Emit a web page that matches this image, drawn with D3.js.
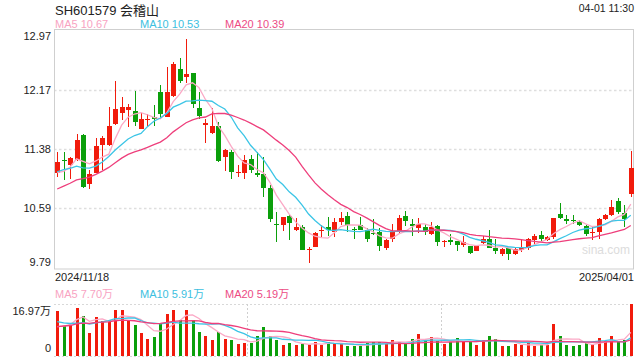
<!DOCTYPE html>
<html><head><meta charset="utf-8">
<script src="https://cdn.jsdelivr.net/npm/d3@7"></script>
<style>body{margin:0;background:#fff}svg{display:block}text{font-family:"Liberation Sans",Arial,"Noto Sans CJK SC",sans-serif}</style>
</head><body><svg id="c" width="640" height="360"></svg>
<script>
const title = "SH601579 会稽山";
const timeLabel = "04-01 11:30";
const dateLabels = ["2024/11/18", "2025/04/01"];
const priceTicks = [12.97, 12.17, 11.38, 10.59, 9.79];
const volTicks = [16.97, 0];
const volTickLabels = ["16.97万", "0"];
const maLabels = ["MA5 10.67", "MA10 10.53", "MA20 10.39"];
const volMaLabels = ["MA5 7.70万", "MA10 5.91万", "MA20 5.19万"];
const maPeriods = [5, 10, 20];

const openP = [11.07,11.24,11.17,11.24,11.57,10.92,11.07,11.44,11.44,11.72,
11.86,11.90,11.89,11.65,11.77,11.81,12.14,11.81,12.09,12.45,
12.34,12.40,11.93,11.70,11.60,11.69,11.28,11.35,11.06,11.07,
11.25,11.06,11.05,10.86,10.39,10.37,10.49,10.30,10.34,10.04,
10.08,10.30,10.34,10.28,10.41,10.49,10.32,10.37,10.30,10.27,
10.28,10.06,10.18,10.28,10.49,10.38,10.33,10.34,10.25,10.36,
10.14,10.17,10.16,10.10,10.09,10.03,10.13,10.18,10.06,9.99,
10.07,9.98,10.04,10.07,10.17,10.24,10.17,10.21,10.52,10.45,
10.44,10.41,10.36,10.27,10.28,10.45,10.50,10.69,10.53,10.78];
const highP = [11.35,11.35,11.28,11.59,11.59,11.10,11.53,11.56,11.94,12.29,
12.08,11.98,12.16,11.86,11.85,11.97,12.24,12.48,12.55,12.60,
12.85,12.40,12.15,11.79,11.93,11.75,11.39,11.37,11.17,11.30,
11.30,11.35,11.28,10.90,10.54,10.48,10.50,10.47,10.37,10.08,
10.28,10.37,10.48,10.47,10.55,10.54,10.35,10.48,10.33,10.45,
10.33,10.19,10.38,10.50,10.56,10.45,10.47,10.39,10.41,10.37,
10.17,10.25,10.16,10.23,10.09,10.10,10.23,10.31,10.19,10.06,
10.07,10.07,10.17,10.20,10.25,10.29,10.22,10.47,10.66,10.50,
10.50,10.44,10.37,10.36,10.46,10.52,10.71,10.73,10.64,11.36];
const lowP = [11.01,10.97,10.98,11.22,10.87,10.85,11.06,11.10,11.42,11.70,
11.77,11.68,11.69,11.65,11.69,11.69,11.79,11.81,12.08,12.26,
12.26,11.93,11.78,11.47,11.59,11.21,11.09,10.99,11.01,10.99,
11.06,11.01,10.75,10.41,10.15,10.29,10.17,10.29,10.04,9.87,
10.08,10.21,10.22,10.21,10.37,10.28,10.19,10.30,10.15,10.24,
10.03,10.04,10.14,10.27,10.36,10.22,10.27,10.24,10.24,10.09,
10.08,10.10,10.02,10.08,9.99,10.02,10.12,10.06,9.99,9.96,
9.91,9.97,10.01,10.04,10.12,10.15,10.16,10.19,10.45,10.38,
10.39,10.36,10.22,10.17,10.18,10.44,10.49,10.52,10.34,10.75];
const closeP = [11.21,11.23,11.27,11.50,10.88,11.05,11.42,11.53,11.69,11.92,
11.95,11.95,11.74,11.78,11.78,11.78,11.85,12.14,12.52,12.29,
12.39,11.99,11.82,11.73,11.69,11.22,11.37,11.08,11.08,11.24,
11.11,11.04,10.86,10.45,10.38,10.48,10.40,10.35,10.04,10.05,
10.26,10.31,10.31,10.41,10.46,10.37,10.30,10.30,10.18,10.25,
10.09,10.17,10.28,10.47,10.42,10.36,10.39,10.28,10.35,10.14,
10.16,10.14,10.10,10.14,10.00,10.10,10.19,10.07,10.02,10.05,
9.99,10.05,10.07,10.19,10.22,10.19,10.21,10.46,10.46,10.43,
10.42,10.37,10.25,10.28,10.45,10.50,10.61,10.55,10.45,11.13];
const volume = [14.8,9.9,10.1,15.8,13.1,7.6,12.7,11.3,11.7,15.0,
15.0,11.7,10.1,7.6,5.7,6.3,10.7,13.7,15.0,11.7,
15.0,11.7,7.9,6.5,5.2,7.9,5.5,5.2,3.9,4.3,
4.3,6.5,9.6,6.5,5.2,3.6,4.3,3.6,3.9,3.6,
4.7,3.7,4.6,3.9,3.9,3.2,3.2,3.2,4.2,4.6,
4.6,4.2,5.2,4.6,4.2,5.6,7.3,5.2,6.3,4.9,
3.9,4.6,5.9,4.6,4.9,3.6,5.2,6.6,5.6,3.2,
3.2,3.9,3.6,4.2,3.2,3.6,3.6,10.6,6.6,3.6,
3.2,3.6,4.2,3.9,5.9,4.9,6.6,4.9,5.2,16.97];
// estimated sessions before the visible window (only feed the moving averages)
const prevClose = [10.45,10.52,10.60,10.55,10.62,10.70,10.66,10.72,10.68,10.70,
10.95,11.10,11.20,11.12,11.08,11.15,10.98,10.96,11.05];
const prevVolume = [6,7,5,8,9,7,10,9,8,11,14,12,15,11,12,9,8,7.5,8.7];

const W = 640, H = 360;
const L = 54, R = 634, T = 30, B = 268.5;
const VT = 304, VB = 356;
const red = "#f11b0c", green = "#0b9f0b";
const maColors = ["#fba9c6", "#3cc5e6", "#ee3f7c"];
const maTextColors = ["#f8a3c2", "#3cc0e0", "#ec4b84"];

const svg = d3.select("#c");
svg.append("rect").attr("width", W).attr("height", H).attr("fill", "#fff");

const n = closeP.length;
const idx = d3.range(n);
const x = d3.scaleBand().domain(idx).range([L, R]).paddingInner(0);
const step = x.bandwidth();
const cx = i => x(i) + step / 2;
const y = d3.scaleLinear().domain([priceTicks[priceTicks.length - 1], priceTicks[0]]).range([B, T]);
const yv = d3.scaleLinear().domain([0, volTicks[0]]).range([VB, VT]);

function movingAvg(prev, cur, p) {
  const all = prev.concat(cur), off = prev.length;
  return cur.map((_, i) => d3.mean(all.slice(off + i - p + 1, off + i + 1)));
}

// header
svg.append("text").attr("x", 55).attr("y", 15).attr("font-size", 13).attr("fill", "#222").text(title);
svg.append("text").attr("x", 634).attr("y", 12).attr("text-anchor", "end").attr("font-size", 10.5).attr("fill", "#222").text(timeLabel);
const legX = [55, 140, 225];
maLabels.forEach((t, k) => svg.append("text").attr("x", legX[k]).attr("y", 28).attr("font-size", 11).attr("fill", maTextColors[k]).text(t));

// grid
const grid = svg.append("g");
priceTicks.slice(1, -1).forEach(v => {
  grid.append("line").attr("x1", L).attr("x2", R).attr("y1", Math.round(y(v)) + 0.5).attr("y2", Math.round(y(v)) + 0.5)
    .attr("stroke", "#dedede").attr("stroke-width", 1.6).attr("stroke-dasharray", "2.5,2.5");
});
svg.append("rect").attr("x", L + 0.5).attr("y", T - 0.5).attr("width", R - L - 1).attr("height", B - T + 1)
  .attr("fill", "none").attr("stroke", "#cfcfcf");

// price labels
priceTicks.forEach((v, k) => {
  let yy = y(v);
  if (k === 0) yy += 6; else if (k === priceTicks.length - 1) yy -= 6;
  svg.append("text").attr("x", 51).attr("y", yy).attr("dy", "0.35em").attr("text-anchor", "end")
    .attr("font-size", 11).attr("fill", "#222").text(v.toFixed(2));
});
svg.append("text").attr("x", 55).attr("y", 281).attr("font-size", 11).attr("fill", "#222").text(dateLabels[0]);
svg.append("text").attr("x", 634).attr("y", 281).attr("text-anchor", "end").attr("font-size", 11).attr("fill", "#222").text(dateLabels[1]);

// watermark
svg.append("text").attr("x", 582).attr("y", 254).attr("font-size", 12).attr("fill", "#dcdcdc").text("sina.com");

svg.append("clipPath").attr("id", "cp").append("rect").attr("x", L + 1).attr("y", T).attr("width", R - L - 2).attr("height", B - T);
svg.append("clipPath").attr("id", "cv").append("rect").attr("x", L).attr("y", VT - 2).attr("width", R - L).attr("height", VB - VT + 2);

// candles
const bw = step * 0.72;
const cg = svg.append("g").attr("shape-rendering", "crispEdges");
idx.forEach(i => {
  const up = closeP[i] >= openP[i];
  const col = up ? red : green;
  const xc = Math.round(cx(i)) + 0.5;
  cg.append("line").attr("x1", xc).attr("x2", xc).attr("y1", y(highP[i])).attr("y2", y(lowP[i])).attr("stroke", col);
  const top = y(Math.max(openP[i], closeP[i])), bot = y(Math.min(openP[i], closeP[i]));
  cg.append("rect").attr("x", xc - bw / 2).attr("width", bw).attr("y", top).attr("height", Math.max(1, bot - top)).attr("fill", col);
});

// MA lines
const lg = svg.append("g").attr("clip-path", "url(#cp)");
maPeriods.forEach((p, k) => {
  const m = movingAvg(prevClose, closeP, p);
  lg.append("path").datum(m).attr("fill", "none").attr("stroke", maColors[k]).attr("stroke-width", 1.3)
    .attr("d", d3.line().x((d, i) => cx(i)).y(d => y(d)));
});

// volume panel
svg.append("text").attr("x", 55).attr("y", 298).attr("font-size", 11).attr("fill", maTextColors[0]).text(volMaLabels[0]);
svg.append("text").attr("x", 140).attr("y", 298).attr("font-size", 11).attr("fill", maTextColors[1]).text(volMaLabels[1]);
svg.append("text").attr("x", 225).attr("y", 298).attr("font-size", 11).attr("fill", maTextColors[2]).text(volMaLabels[2]);
const vg = svg.append("g");
[VT, VB].forEach(yy => vg.append("line").attr("x1", L).attr("x2", R).attr("y1", yy + 0.5).attr("y2", yy + 0.5)
  .attr("stroke", "#d8d8d8").attr("stroke-width", 1.2).attr("stroke-dasharray", "2,2"));
[30, 60].forEach(i => vg.append("line").attr("x1", Math.round(x(i)) + 0.5).attr("x2", Math.round(x(i)) + 0.5)
  .attr("y1", VT).attr("y2", VB).attr("stroke", "#cfcfcf").attr("stroke-dasharray", "2,2"));
svg.append("text").attr("x", 51).attr("y", yv(volTicks[0]) + 7).attr("dy", "0.35em").attr("text-anchor", "end").attr("font-size", 11).attr("fill", "#222").text(volTickLabels[0]);
svg.append("text").attr("x", 51).attr("y", yv(volTicks[1]) - 8).attr("dy", "0.35em").attr("text-anchor", "end").attr("font-size", 11).attr("fill", "#222").text(volTickLabels[1]);

const vbw = step * 0.58;
const vbg = svg.append("g").attr("shape-rendering", "crispEdges");
idx.forEach(i => {
  const col = closeP[i] >= openP[i] ? red : green;
  const xc = Math.round(cx(i)) + 0.5;
  vbg.append("rect").attr("x", xc - vbw / 2).attr("width", vbw).attr("y", yv(volume[i])).attr("height", yv(0) - yv(volume[i])).attr("fill", col);
});
const vl = svg.append("g").attr("clip-path", "url(#cv)");
maPeriods.forEach((p, k) => {
  const m = movingAvg(prevVolume, volume, p);
  vl.append("path").datum(m).attr("fill", "none").attr("stroke", maColors[k]).attr("stroke-width", 1.3)
    .attr("d", d3.line().x((d, i) => cx(i)).y(d => yv(d)));
});
</script></body></html>
